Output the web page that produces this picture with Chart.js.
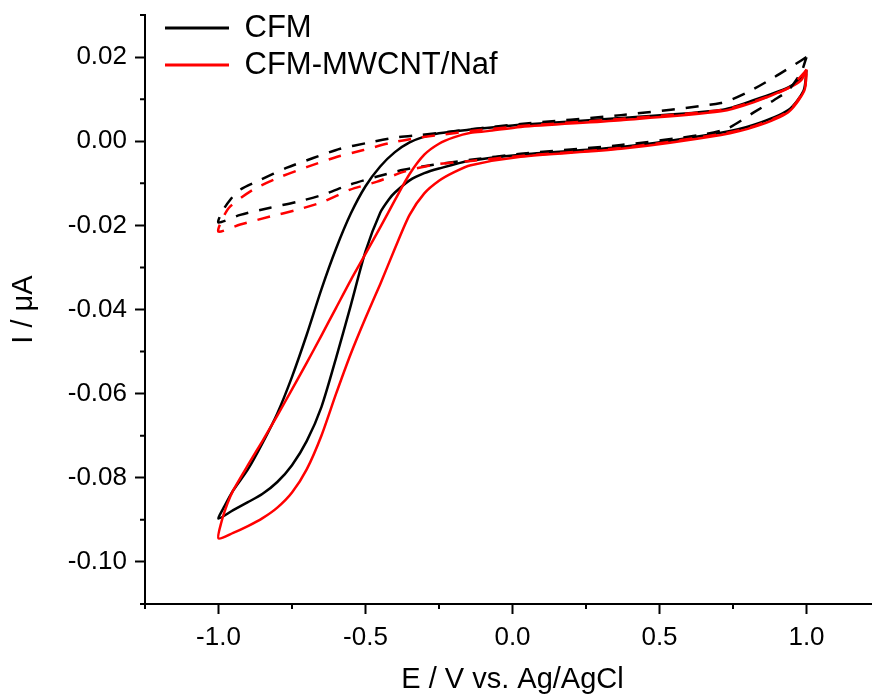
<!DOCTYPE html>
<html>
<head>
<meta charset="utf-8">
<script src="https://cdn.jsdelivr.net/npm/chart.js"></script>
<style>
  html, body { margin: 0; padding: 0; background: #fff; overflow: hidden; }
  canvas { display: block; }
</style>
</head>
<body>
<canvas id="cv-chart" width="880" height="695"></canvas>
<script>
// CFM, solid loop (E in V, I in uA): upper branch leftwards, then back along the lower one
const cfmE = [1.00, 0.98, 0.938, 0.822, 0.709, 0.369, 0.028, -0.15, -0.25, -0.30, -0.35, -0.40, -0.45, -0.50, -0.55, -0.60, -0.65, -0.70, -0.75, -0.80, -0.85, -0.90, -0.95, -0.98, -1.00,
  -0.95, -0.90, -0.85, -0.80, -0.75, -0.70, -0.65, -0.60, -0.55, -0.50, -0.45, -0.42, -0.40, -0.35, -0.30, -0.25, -0.15, 0.028, 0.369, 0.709, 0.822, 0.938, 0.99, 1.00];
const cfmI = [0.0169, 0.0148, 0.0128, 0.0098, 0.0074, 0.0055, 0.0039, 0.0027, 0.0019, 0.0011, -0.0003, -0.0026, -0.0060, -0.0107, -0.0172, -0.0255, -0.0352, -0.0460, -0.0560, -0.0647, -0.0717, -0.0780, -0.0830, -0.0868, -0.0897,
  -0.0877, -0.0858, -0.0838, -0.0810, -0.0770, -0.0713, -0.0632, -0.0515, -0.0390, -0.0262, -0.0170, -0.0138, -0.0122, -0.0093, -0.0076, -0.0065, -0.0047, -0.0032, -0.0014, 0.0020, 0.0039, 0.0074, 0.0120, 0.0169];

// CFM-MWCNT/Naf, solid loop
const nafE = [1.00, 0.982, 0.938, 0.822, 0.709, 0.369, 0.028, -0.085, -0.142, -0.20, -0.25, -0.30, -0.35, -0.40, -0.45, -0.50, -0.55, -0.60, -0.65, -0.70, -0.75, -0.80, -0.85, -0.90, -0.95, -0.97, -0.99, -1.00,
  -0.95, -0.90, -0.85, -0.80, -0.75, -0.70, -0.65, -0.60, -0.55, -0.50, -0.45, -0.40, -0.35, -0.30, -0.25, -0.20, -0.142, 0.028, 0.369, 0.709, 0.822, 0.938, 0.993, 1.00];
const nafI = [0.0171, 0.0145, 0.0126, 0.0093, 0.0071, 0.0050, 0.0034, 0.0024, 0.0020, 0.0009, -0.0006, -0.0032, -0.0078, -0.0140, -0.0205, -0.0268, -0.0330, -0.0396, -0.0462, -0.0527, -0.0590, -0.0652, -0.0712, -0.0770, -0.0830, -0.0862, -0.0905, -0.0944,
  -0.0931, -0.0915, -0.0896, -0.0871, -0.0835, -0.0780, -0.0700, -0.0600, -0.0505, -0.0420, -0.0340, -0.0255, -0.0175, -0.0124, -0.0094, -0.0074, -0.0057, -0.0037, -0.0018, 0.0015, 0.0034, 0.0069, 0.0121, 0.0171];

// dashed loops
const cfmBgE = [1.00, 0.982, 0.890, 0.801, 0.709, 0.369, 0.028, -0.108, -0.221, -0.313, -0.405, -0.494, -0.586, -0.678, -0.767, -0.858, -0.926, -0.960, -0.988, -1.00,
  -0.926, -0.824, -0.732, -0.644, -0.552, -0.460, -0.371, -0.269, -0.142, 0.028, 0.369, 0.641, 0.733, 0.822, 0.890, 0.938, 0.982, 1.00];
const cfmBgI = [0.0200, 0.0192, 0.0152, 0.0117, 0.0091, 0.0062, 0.0041, 0.0031, 0.0022, 0.0015, 0.0008, -0.0004, -0.0018, -0.0040, -0.0063, -0.0092, -0.0115, -0.0139, -0.0168, -0.0193,
  -0.0175, -0.0158, -0.0144, -0.0127, -0.0103, -0.0084, -0.0068, -0.0056, -0.0044, -0.0030, -0.0009, 0.0015, 0.0031, 0.0069, 0.0098, 0.0121, 0.0164, 0.0200];

const nafBgE = [1.00, 0.938, 0.822, 0.709, 0.369, 0.028, -0.142, -0.245, -0.323, -0.415, -0.507, -0.596, -0.698, -0.790, -0.882, -0.960, -0.988, -1.00,
  -0.926, -0.824, -0.732, -0.644, -0.552, -0.460, -0.371, -0.269, -0.142, 0.028, 0.369, 0.709, 0.822, 0.938, 0.993, 1.00];
const nafBgI = [0.0169, 0.0126, 0.0095, 0.0074, 0.0053, 0.0036, 0.0024, 0.0015, 0.0008, -0.0004, -0.0021, -0.0037, -0.0061, -0.0085, -0.0115, -0.0155, -0.0186, -0.0215,
  -0.0198, -0.0179, -0.0163, -0.0144, -0.0115, -0.0096, -0.0073, -0.0056, -0.0047, -0.0035, -0.0016, 0.0017, 0.0036, 0.0071, 0.0124, 0.0169];

const xMajor = [-1.0, -0.5, 0.0, 0.5, 1.0];
const xMinor = [-1.25, -0.75, -0.25, 0.25, 0.75, 1.25];
const yMajor = [-0.10, -0.08, -0.06, -0.04, -0.02, 0.00, 0.02];
const yMinor = [-0.11, -0.09, -0.07, -0.05, -0.03, -0.01, 0.01, 0.03];

const FONT = "'Liberation Sans', Arial, sans-serif";

function pts(xs, ys) {
  return xs.map((x, i) => ({ x: x, y: ys[i] }));
}

function loop(label, xs, ys, color, dashed, order) {
  return {
    label: label,
    data: pts(xs, ys),
    borderColor: color,
    backgroundColor: color,
    borderWidth: 2.5,
    borderDash: dashed ? [13, 11] : [],
    showLine: true,
    pointRadius: 0,
    fill: false,
    tension: 0.25,
    order: order,
  };
}

// short outward ticks between the labelled ones
const minorTicks = {
  id: "minorTicks",
  afterDraw(chart) {
    const { ctx, scales: { x, y } } = chart;
    ctx.save();
    ctx.strokeStyle = "#000";
    ctx.lineWidth = 2;
    ctx.beginPath();
    xMinor.forEach((v) => {
      const px = x.getPixelForValue(v);
      ctx.moveTo(px, x.top);
      ctx.lineTo(px, x.top + 5);
    });
    yMinor.forEach((v) => {
      const py = y.getPixelForValue(v);
      ctx.moveTo(y.right, py);
      ctx.lineTo(y.right - 5, py);
    });
    ctx.stroke();
    ctx.restore();
  },
};

// put the in-plot legend in the top left corner
const legendSpot = {
  id: "legendSpot",
  afterLayout(chart) {
    chart.legend.left = chart.chartArea.left + 14;
    chart.legend.top = chart.chartArea.top - 8.5;
  },
};

const chart = new Chart(document.getElementById("cv-chart").getContext("2d"), {
  type: "scatter",
  data: {
    datasets: [
      loop("CFM", cfmE, cfmI, "#000000", false, 4),
      loop("CFM-MWCNT/Naf", nafE, nafI, "#ff0000", false, 3),
      loop("CFM bg", cfmBgE, cfmBgI, "#000000", true, 2),
      loop("CFM-MWCNT/Naf bg", nafBgE, nafBgI, "#ff0000", true, 1),
    ],
  },
  options: {
    responsive: false,
    animation: false,
    devicePixelRatio: 1,
    layout: { padding: { top: 15, right: 0, left: 0, bottom: 0 } },
    plugins: {
      tooltip: { enabled: false },
      legend: {
        position: "chartArea",
        align: "start",
        labels: {
          font: { family: FONT, size: 31 },
          color: "#000",
          boxWidth: 64,
          boxHeight: 3,
          padding: 6,
          filter: (item) => item.datasetIndex < 2,
          sort: (a, b) => a.datasetIndex - b.datasetIndex,
          generateLabels: (c) =>
            Chart.defaults.plugins.legend.labels
              .generateLabels(c)
              .map((item) => Object.assign(item, { lineWidth: 0 })),
        },
      },
    },
    scales: {
      x: {
        type: "linear",
        min: -1.25,
        max: 1.25,
        afterBuildTicks: (scale) => {
          scale.ticks = xMajor.map((v) => ({ value: v }));
        },
        afterFit: (scale) => {
          scale.height = 91;
          scale.paddingLeft = 0;
          scale.paddingRight = 0;
        },
        grid: { drawOnChartArea: false, color: "#000", tickLength: 10, tickWidth: 2 },
        border: { color: "#000", width: 2 },
        ticks: {
          color: "#000",
          padding: 8,
          maxRotation: 0,
          font: { family: FONT, size: 26 },
          callback: (v) => Number(v).toFixed(1),
        },
        title: {
          display: true,
          text: "E / V vs. Ag/AgCl",
          color: "#000",
          font: { family: FONT, size: 29, lineHeight: 1 },
          padding: { top: 0, bottom: 1 },
        },
      },
      y: {
        type: "linear",
        min: -0.11,
        max: 0.03,
        afterBuildTicks: (scale) => {
          scale.ticks = yMajor.map((v) => ({ value: v }));
        },
        afterFit: (scale) => {
          scale.width = 145;
          scale.paddingTop = 0;
          scale.paddingBottom = 0;
        },
        grid: { drawOnChartArea: false, color: "#000", tickLength: 10, tickWidth: 2 },
        border: { color: "#000", width: 2 },
        ticks: {
          color: "#000",
          padding: 8,
          font: { family: FONT, size: 26 },
          callback: (v) => Number(v).toFixed(2),
        },
        title: {
          display: true,
          text: "I / μA",
          color: "#000",
          font: { family: FONT, size: 29, lineHeight: 1 },
          padding: { top: 9, bottom: 0 },
        },
      },
    },
  },
  plugins: [minorTicks, legendSpot],
});
</script>
</body>
</html>
